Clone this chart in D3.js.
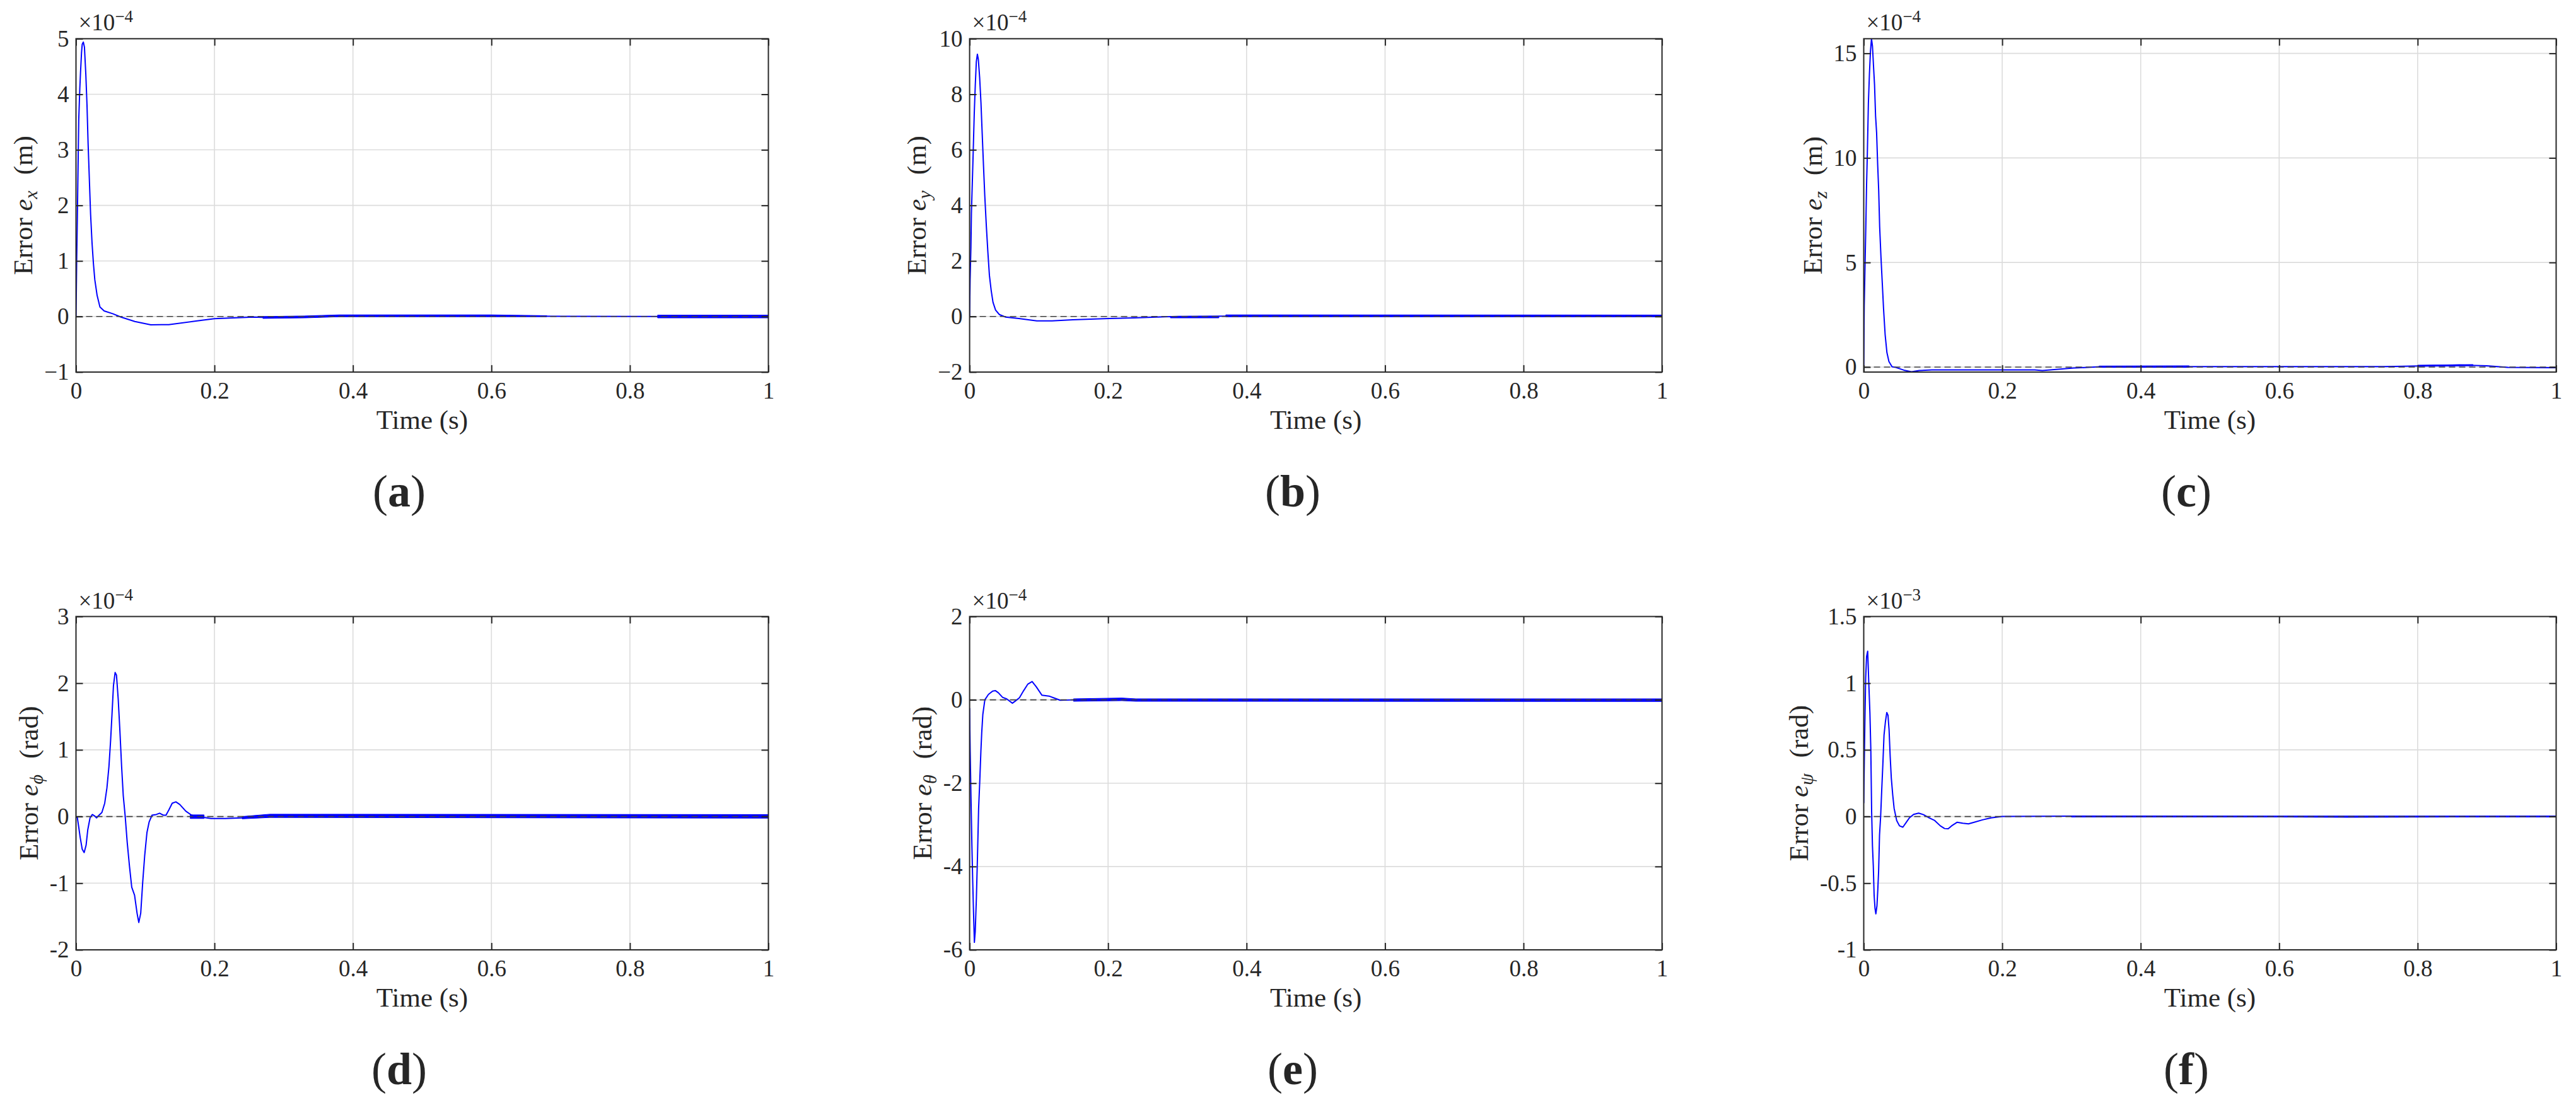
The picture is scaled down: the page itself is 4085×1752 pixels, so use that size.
<!DOCTYPE html>
<html><head><meta charset="utf-8">
<script src="https://cdn.jsdelivr.net/npm/d3@7"></script>
<style>
body{margin:0;background:#fff}
svg{display:block}
text{font-family:"Liberation Serif","Times New Roman",serif;fill:#262626}
</style>
</head><body>
<svg id="chart" width="4085" height="1752"></svg>
<script>
// ---------------- data ----------------
const timeTicks = [0, 0.2, 0.4, 0.6, 0.8, 1];
const timeTickLabels = ["0", "0.2", "0.4", "0.6", "0.8", "1"];

// (a) e_x  [t (s), value ×1e-4 m]
const errX = [[0,0],[0.0005,0.45],[0.001,1.0],[0.002,1.8],[0.003,2.7],[0.004,3.55],[0.0055,4.1],[0.0065,4.38],[0.008,4.75],[0.009,4.9],[0.0106,4.94],[0.0122,4.85],[0.0142,4.36],[0.0159,3.81],[0.0175,3.11],[0.0195,2.4],[0.0211,1.84],[0.0232,1.32],[0.0252,0.95],[0.0272,0.66],[0.0305,0.38],[0.0346,0.17],[0.0407,0.1],[0.053,0.05],[0.065,-0.01],[0.085,-0.09],[0.108,-0.15],[0.134,-0.146],[0.175,-0.08],[0.2,-0.04],[0.256,-0.01],[0.27,-0.015],[0.33,-0.01],[0.4,0.01],[0.6,0.01],[0.7,0.005],[0.83,0.0],[1.0,0.0]];
const bandX = [[[0.27,-0.035,0.0],[0.33,-0.025,0.01],[0.38,-0.005,0.03],[0.6,-0.005,0.03],[0.68,-0.003,0.015]],[[0.84,-0.025,0.025],[1.0,-0.025,0.025]]];
const yTicksX = [-1, 0, 1, 2, 3, 4, 5];
const yTickLabelsX = ["\u22121", "0", "1", "2", "3", "4", "5"];
const yLimX = [-1, 5];

// (b) e_y
const errY = [[0,0],[0.0007,1.3],[0.0019,2.5],[0.0026,3.7],[0.004,4.9],[0.0052,5.93],[0.0067,7.3],[0.0082,8.33],[0.0097,9.17],[0.0112,9.44],[0.0126,9.26],[0.0145,8.6],[0.0164,7.7],[0.0182,6.57],[0.02,5.46],[0.0219,4.35],[0.0242,3.24],[0.0264,2.31],[0.0286,1.48],[0.0312,0.93],[0.0338,0.51],[0.0375,0.23],[0.043,0.07],[0.052,-0.02],[0.071,-0.07],[0.097,-0.16],[0.119,-0.16],[0.149,-0.12],[0.201,-0.07],[0.238,-0.05],[0.283,-0.01],[0.3,0.0],[0.4,0.02],[0.6,0.02],[0.8,0.02],[1.0,0.01]];
const bandY = [[[0.29,-0.05,0.0],[0.36,-0.05,0.0]],[[0.37,-0.01,0.06],[1.0,-0.015,0.055]]];
const yTicksY = [-2, 0, 2, 4, 6, 8, 10];
const yTickLabelsY = ["\u22122", "0", "2", "4", "6", "8", "10"];
const yLimY = [-2, 10];

// (c) e_z
const errZ = [[0,0],[0.0007,2.9],[0.0019,4.9],[0.003,6.7],[0.0041,8.7],[0.0052,10.2],[0.0067,12.6],[0.0082,14.0],[0.0097,15.1],[0.0112,15.7],[0.0126,15.35],[0.0141,14.4],[0.0156,13.5],[0.0171,12.0],[0.0186,11.2],[0.0201,9.7],[0.0216,8.45],[0.023,6.7],[0.0249,5.25],[0.0268,4.0],[0.0286,2.8],[0.0309,1.55],[0.0335,0.69],[0.0364,0.26],[0.0409,0.01],[0.0465,-0.02],[0.058,-0.15],[0.069,-0.23],[0.08,-0.17],[0.0985,-0.135],[0.154,-0.135],[0.247,-0.135],[0.258,-0.17],[0.303,-0.05],[0.34,0.01],[0.5,0.02],[0.75,0.02],[0.8,0.05],[0.86,0.1],[0.9,0.06],[0.93,-0.02],[1.0,-0.03]];
const bandZ = [[[0.34,-0.02,0.05],[0.47,-0.02,0.06]],[[0.8,0.03,0.09],[0.88,0.06,0.12]]];
const yTicksZ = [0, 5, 10, 15];
const yTickLabelsZ = ["0", "5", "10", "15"];
const yLimZ = [-0.24, 15.7];

// (d) e_phi
const errPhi = [[0,0],[0.002,-0.02],[0.004,-0.16],[0.006,-0.31],[0.009,-0.49],[0.0118,-0.54],[0.0146,-0.43],[0.017,-0.2],[0.0203,-0.02],[0.0236,0.03],[0.0268,0.01],[0.0297,-0.02],[0.0333,0.02],[0.0374,0.06],[0.0415,0.2],[0.0447,0.43],[0.0476,0.75],[0.05,1.14],[0.052,1.53],[0.0541,1.96],[0.0565,2.16],[0.0585,2.12],[0.061,1.76],[0.0634,1.29],[0.0659,0.75],[0.0683,0.31],[0.0711,0],[0.074,-0.39],[0.0773,-0.75],[0.0805,-1.06],[0.0846,-1.18],[0.0882,-1.45],[0.0907,-1.59],[0.0935,-1.45],[0.0964,-0.98],[0.0992,-0.59],[0.1025,-0.24],[0.1057,-0.08],[0.1098,0.02],[0.1159,0.03],[0.1208,0.05],[0.126,0.02],[0.13,0.02],[0.1342,0.1],[0.139,0.2],[0.1443,0.22],[0.15,0.18],[0.1586,0.08],[0.167,0.02],[0.175,0],[0.195,-0.03],[0.2155,-0.03],[0.24,-0.02],[0.256,0],[0.3,0.01],[0.5,0.01],[0.7,0.01],[1.0,0.0]];
const bandPhi = [[[0.165,-0.03,0.025],[0.185,-0.03,0.025]],[[0.24,-0.035,0.0],[0.28,-0.015,0.035],[1.0,-0.025,0.03]]];
const yTicksPhi = [-2, -1, 0, 1, 2, 3];
const yTickLabelsPhi = ["-2", "-1", "0", "1", "2", "3"];
const yLimPhi = [-2, 3];

// (e) e_theta
const errTheta = [[0,-0.2],[0.0008,-1.23],[0.002,-2.36],[0.0033,-3.49],[0.0045,-4.37],[0.0057,-5.13],[0.0069,-5.82],[0.0081,-5.57],[0.0098,-4.75],[0.0114,-3.74],[0.013,-2.61],[0.0146,-1.98],[0.0163,-1.23],[0.0175,-0.79],[0.0191,-0.35],[0.022,0],[0.0272,0.13],[0.0333,0.21],[0.0374,0.22],[0.0415,0.17],[0.0476,0.06],[0.0537,0.02],[0.0585,-0.04],[0.0618,-0.08],[0.0659,-0.03],[0.072,0.05],[0.078,0.22],[0.0842,0.38],[0.0903,0.44],[0.0964,0.31],[0.1045,0.11],[0.1147,0.09],[0.1228,0.04],[0.1309,-0.01],[0.151,0],[0.2,0.01],[0.4,0.0],[0.6,0.0],[1.0,0.0]];
const bandTheta = [[[0.15,-0.035,0.025],[0.22,-0.02,0.045],[0.24,-0.035,0.025],[1.0,-0.04,0.025]]];
const yTicksTheta = [-6, -4, -2, 0, 2];
const yTickLabelsTheta = ["-6", "-4", "-2", "0", "2"];
const yLimTheta = [-6, 2];

// (f) e_psi  [t, value ×1e-3 rad]
const errPsi = [[0,0.1],[0.0008,0.41],[0.0016,0.69],[0.0028,1.04],[0.0041,1.2],[0.0057,1.24],[0.0073,1.0],[0.0089,0.78],[0.0102,0.51],[0.0114,0.04],[0.0126,-0.22],[0.0138,-0.37],[0.015,-0.59],[0.0163,-0.69],[0.0175,-0.73],[0.0191,-0.67],[0.0203,-0.55],[0.0215,-0.41],[0.0228,-0.14],[0.0244,0],[0.026,0.2],[0.0276,0.39],[0.0293,0.61],[0.0313,0.71],[0.0333,0.78],[0.035,0.76],[0.0366,0.65],[0.0382,0.45],[0.0398,0.29],[0.0419,0.16],[0.0439,0.06],[0.0476,-0.03],[0.0516,-0.07],[0.0565,-0.08],[0.0606,-0.05],[0.0659,-0.01],[0.072,0.016],[0.0793,0.025],[0.0862,0.014],[0.0943,-0.01],[0.1025,-0.03],[0.1106,-0.07],[0.1167,-0.09],[0.122,-0.092],[0.1269,-0.07],[0.135,-0.043],[0.1431,-0.05],[0.1512,-0.055],[0.1594,-0.043],[0.1716,-0.025],[0.1838,-0.01],[0.2,0],[0.3,0.003],[0.5,0],[0.7,-0.004],[1.0,0]];
const bandPsi = [[[0.3,-0.004,0.004],[1.0,-0.004,0.004]]];
const yTicksPsi = [-1, -0.5, 0, 0.5, 1, 1.5];
const yTickLabelsPsi = ["-1", "-0.5", "0", "0.5", "1", "1.5"];
const yLimPsi = [-1, 1.5];

const subLabels = ["a", "b", "c", "d", "e", "f"];
const symbols = ["x", "y", "z", "\u03D5", "\u03B8", "\u03C8"];
const units = ["(m)", "(m)", "(m)", "(rad)", "(rad)", "(rad)"];
const exponents = ["\u22124", "\u22124", "\u22124", "\u22124", "\u22124", "\u22123"];

// table built from the arrays above
const panels = [
  {data: errX, band: bandX, ticks: yTicksX, labels: yTickLabelsX, lim: yLimX},
  {data: errY, band: bandY, ticks: yTicksY, labels: yTickLabelsY, lim: yLimY},
  {data: errZ, band: bandZ, ticks: yTicksZ, labels: yTickLabelsZ, lim: yLimZ},
  {data: errPhi, band: bandPhi, ticks: yTicksPhi, labels: yTickLabelsPhi, lim: yLimPhi},
  {data: errTheta, band: bandTheta, ticks: yTicksTheta, labels: yTickLabelsTheta, lim: yLimTheta},
  {data: errPsi, band: bandPsi, ticks: yTicksPsi, labels: yTickLabelsPsi, lim: yLimPsi}
];

// ---------------- layout ----------------
const colLeft = [120.5, 1537.6, 2955.5];
const rowTop = [61.4, 977.5];
const W = 1098, H = 528.5;
const tickFont = 37, labelFont = 43;
const axisColor = "#262626";
const serif = "'Liberation Serif', 'Times New Roman', serif";

const svg = d3.select("#chart");

panels.forEach((p, i) => {
  const col = i % 3, row = Math.floor(i / 3);
  const left = colLeft[col], top = rowTop[row];
  const g = svg.append("g").attr("transform", `translate(${left},${top})`);
  const x = d3.scaleLinear().domain([0, 1]).range([0, W]);
  const y = d3.scaleLinear().domain(p.lim).range([H, 0]);

  // grid
  g.append("g").selectAll("line").data(timeTicks.filter(t => t > 0 && t < 1)).join("line")
    .attr("x1", d => x(d)).attr("x2", d => x(d)).attr("y1", 0).attr("y2", H)
    .attr("stroke", "#dcdcdc").attr("stroke-width", 1.6);
  g.append("g").selectAll("line").data(p.ticks.filter(t => y(t) > 0.5 && y(t) < H - 0.5)).join("line")
    .attr("x1", 0).attr("x2", W).attr("y1", d => y(d)).attr("y2", d => y(d))
    .attr("stroke", "#dcdcdc").attr("stroke-width", 1.6);

  // data
  const clipId = "clip" + i;
  g.append("clipPath").attr("id", clipId).append("rect")
    .attr("x", 0).attr("y", 0).attr("width", W).attr("height", H);
  const dg = g.append("g").attr("clip-path", `url(#${clipId})`);
  const area = d3.area().x(d => x(d[0])).y0(d => y(d[1])).y1(d => y(d[2]));
  p.band.forEach(seg => {
    dg.append("path").attr("d", area(seg)).attr("fill", "#0000ff")
      .attr("stroke", "#0000ff").attr("stroke-width", 1);
  });
  const line = d3.line().x(d => x(d[0])).y(d => y(d[1]));
  dg.append("path").attr("d", line(p.data)).attr("fill", "none")
    .attr("stroke", "#0000ff").attr("stroke-width", 2).attr("stroke-linejoin", "round");

  // zero reference line
  g.append("line").attr("x1", 0).attr("x2", W).attr("y1", y(0)).attr("y2", y(0))
    .attr("stroke", "#404040").attr("stroke-width", 1.6).attr("stroke-dasharray", "10,6");

  // axes
  const styleAxis = sel => {
    sel.select(".domain").remove();
    sel.selectAll(".tick line").attr("stroke", axisColor).attr("stroke-width", 2);
    sel.selectAll("text").attr("font-size", tickFont).attr("font-family", serif).attr("fill", axisColor);
    sel.attr("font-family", null).attr("font-size", null);
  };
  g.append("g").attr("transform", `translate(0,${H})`)
    .call(d3.axisBottom(x).tickValues(timeTicks).tickFormat((d, k) => timeTickLabels[k]).tickSize(-11).tickPadding(16))
    .call(styleAxis);
  g.append("g")
    .call(d3.axisTop(x).tickValues(timeTicks).tickFormat("").tickSize(-11))
    .call(styleAxis);
  const yAx = g.append("g")
    .call(d3.axisLeft(y).tickValues(p.ticks).tickFormat((d, k) => p.labels[k]).tickSize(-11).tickPadding(11))
    .call(styleAxis);
  g.append("g").attr("transform", `translate(${W},0)`)
    .call(d3.axisRight(y).tickValues(p.ticks).tickFormat("").tickSize(-11))
    .call(styleAxis);
  g.append("rect").attr("x", 0).attr("y", 0).attr("width", W).attr("height", H)
    .attr("fill", "none").attr("stroke", axisColor).attr("stroke-width", 2);

  // exponent
  const ex = g.append("text").attr("x", 4).attr("y", -13).attr("font-size", tickFont).attr("font-family", serif);
  ex.append("tspan").text("\u00D710");
  ex.append("tspan").attr("font-size", 27).attr("dy", -13).text(exponents[i]);

  // y label
  let maxW = 0;
  yAx.selectAll(".tick text").each(function () { maxW = Math.max(maxW, this.getBBox().width); });
  const lx = -(11 + maxW + 19);
  const yl = g.append("text").attr("transform", `translate(${lx},${H / 2}) rotate(-90)`)
    .attr("text-anchor", "middle").attr("font-size", labelFont).attr("font-family", serif);
  yl.append("tspan").text("Error ");
  yl.append("tspan").attr("font-style", "italic").text("e");
  yl.append("tspan").attr("font-style", "italic").attr("font-size", 30).attr("dy", 8).text(symbols[i]);
  yl.append("tspan").attr("dy", -8).attr("dx", 14).text(" " + units[i]);

  // x label
  g.append("text").attr("x", W / 2).attr("y", H + 90).attr("text-anchor", "middle")
    .attr("font-size", labelFont).attr("font-family", serif).text("Time (s)");

  // sub-figure label
  const sl = svg.append("text").attr("x", 633 + col * 1417).attr("y", 803 + row * 916)
    .attr("text-anchor", "middle").attr("font-size", 72).attr("font-family", serif).attr("fill", "#000");
  sl.append("tspan").text("(");
  sl.append("tspan").attr("font-weight", "bold").text(subLabels[i]);
  sl.append("tspan").text(")");
});
</script>
</body></html>
